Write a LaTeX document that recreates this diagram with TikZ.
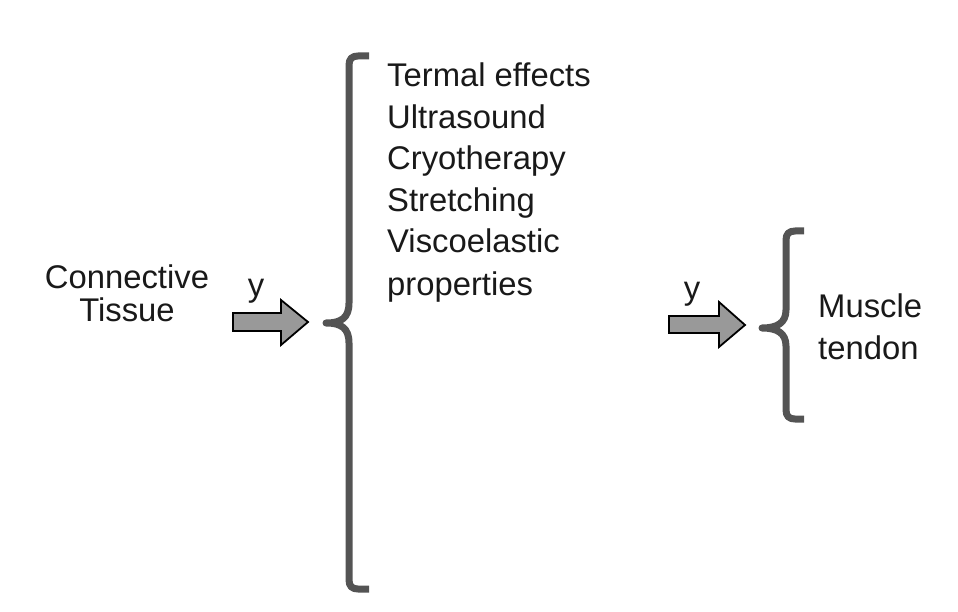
\documentclass[tikz,border=0pt]{standalone}
\usepackage{fontspec}
\setmainfont{Liberation Sans}
\begin{document}
\begin{tikzpicture}[x=1pt,y=-1pt,
  lbl/.style={inner sep=0pt, anchor=base west, font=\fontsize{32.8}{40}\selectfont, text=black!90},
  brace/.style={draw=black!67, line width=7pt, line cap=butt, line join=round},
  bigarrow/.style={draw=black, line width=1.8pt, fill=black!40, line join=miter}]
\useasboundingbox (0,0) rectangle (958,612);
% left label
\node[lbl, anchor=base] (c1) at (127,289) {Connective};
\node[lbl, anchor=base] (c2) at (127,321) {Tissue};
\node[lbl, anchor=base] (y1) at (256,297) {y};
% left arrow
\draw[bigarrow] (233,313) -- (281,313) -- (281,300) -- (308,322) -- (281,345) -- (281,331) -- (233,331) -- cycle;
% big brace
\draw[brace] (369,56) -- (358,56) .. controls (352,56) and (349,59) .. (349,65) -- (349,303)
  .. controls (349,318) and (341,323) .. (326,323)
  .. controls (341,323) and (349,328) .. (349,343) -- (349,580)
  .. controls (349,586) and (352,589) .. (358,589) -- (369,589);
% list
\node[lbl] (t1) at (387,87) {Termal effects};
\node[lbl] (t2) at (387,129) {Ultrasound};
\node[lbl] (t3) at (387,170) {Cryotherapy};
\node[lbl] (t4) at (387,212) {Stretching};
\node[lbl] (t5) at (387,253) {Viscoelastic};
\node[lbl] (t6) at (387,295) {properties};
% second arrow
\node[lbl, anchor=base] (y2) at (692,299) {y};
\draw[bigarrow] (669,316) -- (719,316) -- (719,302) -- (745,325) -- (719,347) -- (719,333) -- (669,333) -- cycle;
% small brace
\draw[brace] (804,231) -- (795,231) .. controls (789,231) and (786,234) .. (786,240) -- (786,310)
  .. controls (786,323) and (777,328) .. (762,328)
  .. controls (777,328) and (786,333) .. (786,346) -- (786,410)
  .. controls (786,416) and (789,419) .. (795,419) -- (804,419);
\node[lbl] (m1) at (818,317) {Muscle};
\node[lbl] (m2) at (818,359) {tendon};
\end{tikzpicture}
\end{document}
